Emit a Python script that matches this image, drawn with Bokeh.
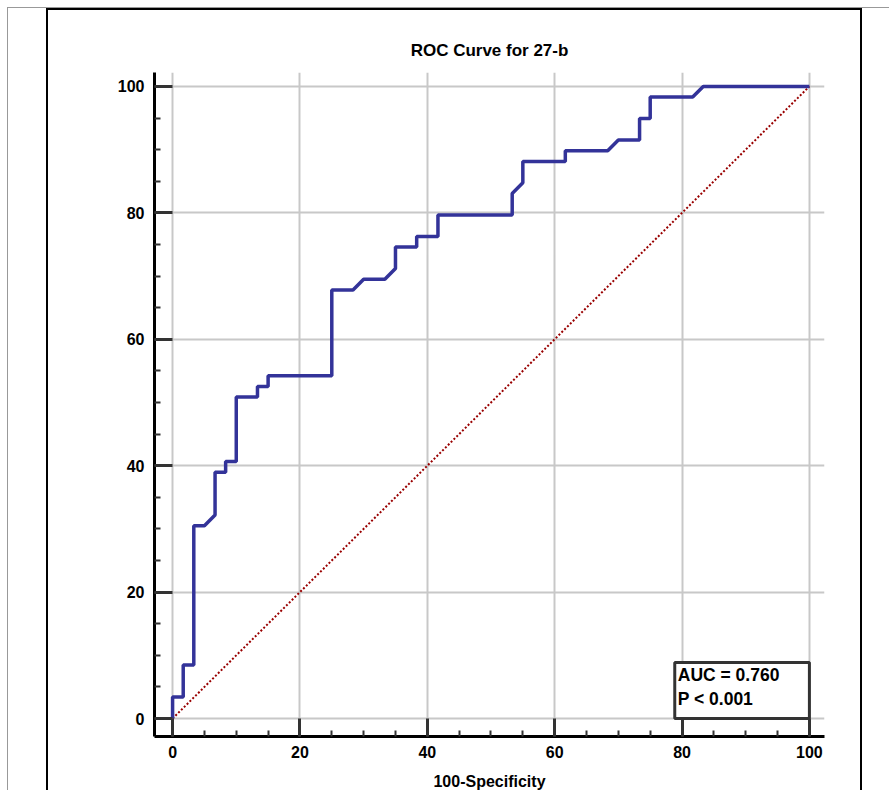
from bokeh.plotting import figure
from bokeh.layouts import column
from bokeh.models import Label, SingleIntervalTicker, Range1d
from bokeh.embed import file_html
from bokeh.resources import INLINE

# ROC curve points (100-Specificity, Sensitivity)
fpr = [0, 0, 1.67, 1.67, 3.33, 3.33, 5, 6.67, 6.67, 8.33, 8.33, 10, 10, 13.33, 13.33,
       15, 15, 25, 25, 28.33, 30, 33.33, 35, 35, 38.33, 38.33, 41.67, 41.67, 53.33,
       53.33, 55, 55, 61.67, 61.67, 68.33, 70, 73.33, 73.33, 75, 75, 81.67, 83.33, 100]
tpr = [0, 3.39, 3.39, 8.47, 8.47, 30.51, 30.51, 32.2, 38.98, 38.98, 40.68, 40.68,
       50.85, 50.85, 52.54, 52.54, 54.24, 54.24, 67.8, 67.8, 69.49, 69.49, 71.19,
       74.58, 74.58, 76.27, 76.27, 79.66, 79.66, 83.05, 84.75, 88.14, 88.14, 89.83,
       89.83, 91.53, 91.53, 94.92, 94.92, 98.31, 98.31, 100, 100]
diag_x = [0, 100]
diag_y = [0, 100]
title_text = "ROC Curve for 27-b"
x_label = "100-Specificity"
auc_text = "AUC = 0.760\nP < 0.001"

FONT = "Liberation Sans"

p = figure(width=816, height=782, output_backend="svg", toolbar_location=None,
           x_range=Range1d(-2.84, 102.37), y_range=Range1d(-2.84, 102.2),
           min_border_left=106, min_border_right=40, min_border_top=62,
           min_border_bottom=53, title=title_text)
p.margin = (0, 0, 0, 38)
p.styles = {"border-left": "2px solid black", "border-top": "2px solid black",
            "border-right": "2px solid black"}

p.title.align = "center"
p.title.text_font = FONT
p.title.text_font_size = "17px"
p.title.text_font_style = "bold"
p.title.text_color = "black"
p.title.standoff = 25

p.outline_line_color = None
p.background_fill_color = "white"
p.border_fill_color = "white"

for ax in (p.xaxis[0], p.yaxis[0]):
    ax.ticker = SingleIntervalTicker(interval=20, num_minor_ticks=4)
    ax.axis_line_width = 3
    ax.axis_line_color = "black"
    ax.major_tick_in = 18
    ax.major_tick_out = 0
    ax.major_tick_line_width = 3
    ax.major_tick_line_color = "#333333"
    ax.minor_tick_in = 6
    ax.minor_tick_out = 0
    ax.minor_tick_line_width = 2
    ax.minor_tick_line_color = "#333333"
    ax.major_label_text_font = FONT
    ax.major_label_text_font_size = "16px"
    ax.major_label_text_font_style = "bold"
    ax.major_label_text_color = "black"

p.xaxis.major_label_standoff = 9
p.yaxis.major_label_standoff = 10
p.xaxis.axis_label = x_label
p.xaxis.axis_label_text_font = FONT
p.xaxis.axis_label_text_font_size = "16px"
p.xaxis.axis_label_text_font_style = "bold"
p.xaxis.axis_label_text_color = "black"
p.xaxis.axis_label_standoff = 12

p.grid.grid_line_color = "#c8c8c8"
p.grid.grid_line_width = 2

p.line(diag_x, diag_y, line_color="#990000", line_width=2, line_dash="2 2")
p.line(fpr, tpr, line_color="#333399", line_width=3.5)

lab = Label(x=100, y=0, anchor="bottom_right", text=auc_text,
            text_font=FONT, text_font_size="17.5px", text_font_style="bold",
            text_color="black", border_line_color="#333333", border_line_width=3,
            background_fill_color="white", padding=(3, 30, 2, 10))
p.add_layout(lab)

page = column(p, margin=(7, 0, 0, 7), width=882,
              styles={"border-left": "1px solid #999999", "border-top": "1px solid #999999"})

open("out.html", "w").write(file_html(page, INLINE))
